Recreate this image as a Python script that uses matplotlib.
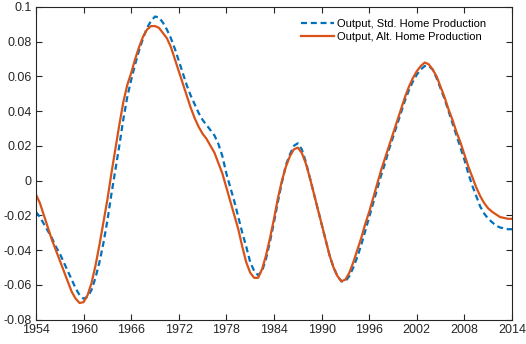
import numpy as np
import matplotlib
matplotlib.use("Agg")
import matplotlib.pyplot as plt

plt.rcParams["font.family"] = ["Liberation Sans", "DejaVu Sans"]

# semi-annual time axis
t = np.arange(1954, 2014.01, 0.5)

# Output, Alt. Home Production (solid)
alt_home = [
    -0.008, -0.013, -0.020, -0.027, -0.034, -0.040, -0.046, -0.052, -0.058, -0.064,   # 1954-1958.5
    -0.068, -0.0705, -0.070, -0.066, -0.059, -0.049, -0.037, -0.024, -0.011, 0.004,   # 1959-1963.5
    0.018, 0.032, 0.045, 0.055, 0.062, 0.070, 0.077, 0.083, 0.087, 0.089,             # 1964-1968.5
    0.089, 0.088, 0.085, 0.082, 0.077, 0.070, 0.063, 0.056, 0.049, 0.042,             # 1969-1973.5
    0.036, 0.031, 0.027, 0.024, 0.020, 0.016, 0.010, 0.004, -0.004, -0.012,           # 1974-1978.5
    -0.020, -0.028, -0.038, -0.047, -0.053, -0.056, -0.056, -0.051, -0.043, -0.033,   # 1979-1983.5
    -0.022, -0.010, 0.000, 0.008, 0.014, 0.018, 0.019, 0.016, 0.010, 0.002,          # 1984-1988.5
    -0.007, -0.016, -0.025, -0.034, -0.043, -0.050, -0.055, -0.058, -0.057, -0.053,   # 1989-1993.5
    -0.047, -0.040, -0.033, -0.025, -0.018, -0.010, -0.002, 0.006, 0.013, 0.020,      # 1994-1998.5
    0.027, 0.034, 0.041, 0.048, 0.054, 0.059, 0.063, 0.066, 0.068, 0.067,             # 1999-2003.5
    0.064, 0.060, 0.054, 0.048, 0.041, 0.035, 0.028, 0.022, 0.015, 0.008,             # 2004-2008.5
    0.002, -0.004, -0.009, -0.013, -0.016, -0.018, -0.0195, -0.021, -0.0215, -0.022,  # 2009-2013.5
    -0.022,                                                                           # 2014
]

# Output, Std. Home Production (dashed)
std_home = [
    -0.018, -0.021, -0.025, -0.029, -0.033, -0.038, -0.042, -0.047, -0.052, -0.057,
    -0.062, -0.066, -0.068, -0.067, -0.063, -0.056, -0.047, -0.036, -0.023, -0.008,
    0.006, 0.020, 0.035, 0.048, 0.058, 0.067, 0.075, 0.082, 0.088, 0.092,
    0.0945, 0.094, 0.091, 0.087, 0.082, 0.076, 0.069, 0.062, 0.055, 0.049,
    0.044, 0.039, 0.035, 0.032, 0.029, 0.026, 0.021, 0.014, 0.004, -0.004,
    -0.012, -0.021, -0.030, -0.038, -0.047, -0.052, -0.0545, -0.052, -0.045, -0.035,
    -0.024, -0.012, -0.001, 0.009, 0.015, 0.020, 0.0215, 0.018, 0.011, 0.002,
    -0.007, -0.016, -0.025, -0.034, -0.043, -0.050, -0.055, -0.058, -0.058, -0.055,
    -0.050, -0.044, -0.037, -0.029, -0.021, -0.013, -0.005, 0.003, 0.010, 0.018,
    0.025, 0.032, 0.039, 0.046, 0.052, 0.057, 0.061, 0.064, 0.066, 0.066,
    0.064, 0.059, 0.053, 0.047, 0.040, 0.033, 0.026, 0.019, 0.012, 0.004,
    -0.003, -0.009, -0.015, -0.019, -0.022, -0.024, -0.026, -0.027, -0.0275, -0.028,
    -0.028,
]

xticks = np.arange(1954, 2015, 6)
yticks = np.arange(-0.08, 0.1001, 0.02)
ytick_labels = ["-0.08", "-0.06", "-0.04", "-0.02", "0", "0.02", "0.04",
                "0.06", "0.08", "0.1"]

fig = plt.figure(figsize=(5.26, 3.44), dpi=100)
ax = fig.add_axes([0.0684, 0.0712, 0.905, 0.9085])

ax.plot(t, std_home, "--", color="#0072BD", lw=1.6, dashes=(2.7, 1.7),
        label="Output, Std. Home Production")
ax.plot(t, alt_home, "-", color="#D95319", lw=1.6,
        label="Output, Alt. Home Production")

ax.set_xlim(1954, 2014)
ax.set_ylim(-0.08, 0.1)
ax.set_xticks(xticks)
ax.set_yticks(yticks)
ax.set_yticklabels(ytick_labels)
ax.tick_params(direction="in", top=True, right=True, length=4, width=0.8,
               labelsize=9, colors="#262626", pad=3)
for s in ax.spines.values():
    s.set_color("#262626")
    s.set_linewidth(0.8)

ax.legend(loc="upper right", frameon=False, fontsize=8, handlelength=3.0,
          handletextpad=0.2, borderpad=0, borderaxespad=0, labelspacing=0.3,
          bbox_to_anchor=(0.945, 0.963))

fig.savefig("out.png", dpi=100)
